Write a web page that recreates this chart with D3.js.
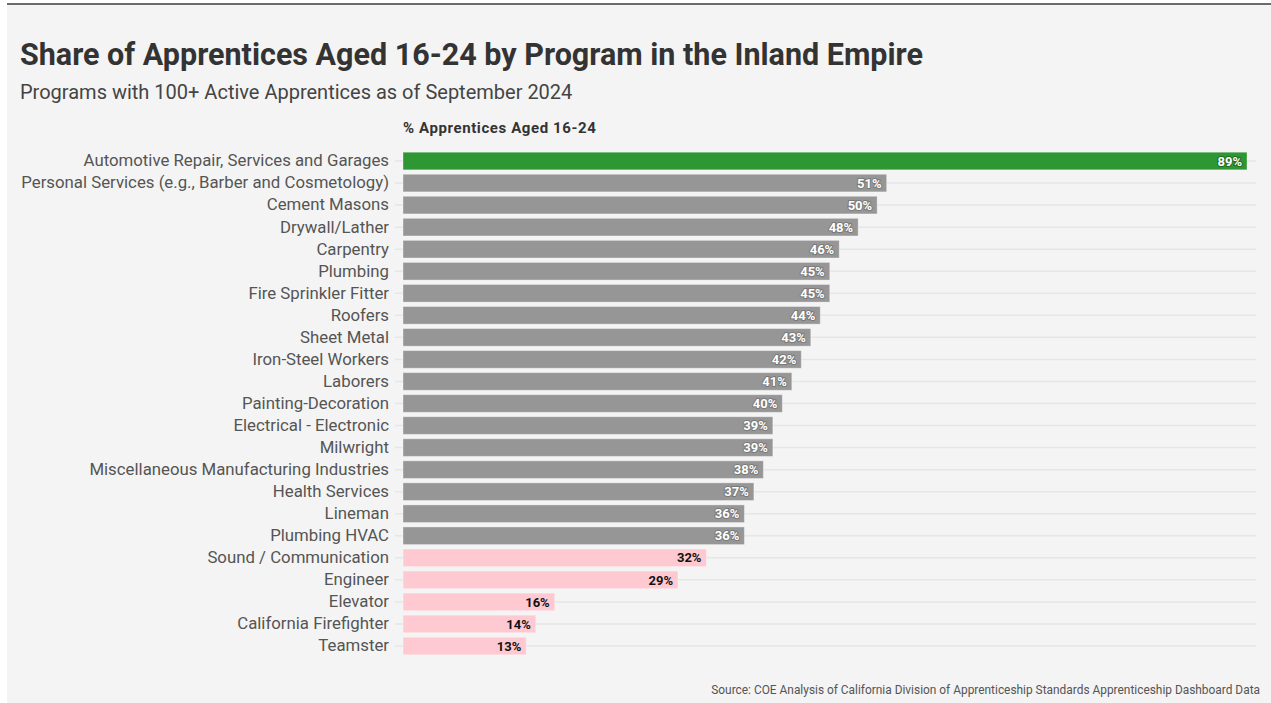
<!DOCTYPE html>
<html><head><meta charset="utf-8">
<script src="https://cdn.jsdelivr.net/npm/d3@7"></script>
<style>
html,body{margin:0;padding:0;background:#fff;}
svg{display:block;}
text{font-family:Roboto,"Noto Sans",sans-serif;}
</style></head>
<body>
<script>
const categories = ["Automotive Repair, Services and Garages","Personal Services (e.g., Barber and Cosmetology)","Cement Masons","Drywall/Lather","Carpentry","Plumbing","Fire Sprinkler Fitter","Roofers","Sheet Metal","Iron-Steel Workers","Laborers","Painting-Decoration","Electrical - Electronic","Milwright","Miscellaneous Manufacturing Industries","Health Services","Lineman","Plumbing HVAC","Sound / Communication","Engineer","Elevator","California Firefighter","Teamster"];
const values = [89,51,50,48,46,45,45,44,43,42,41,40,39,39,38,37,36,36,32,29,16,14,13];
const groups = ["top","mid","mid","mid","mid","mid","mid","mid","mid","mid","mid","mid","mid","mid","mid","mid","mid","mid","low","low","low","low","low"];

const W=1271,H=703;
const svg=d3.select("body").append("svg").attr("width",W).attr("height",H);
svg.append("rect").attr("x",7).attr("y",3).attr("width",W-7).attr("height",H-3).attr("fill","#f4f4f4");
svg.append("rect").attr("x",7).attr("y",3).attr("width",W-7).attr("height",2).attr("fill","#6b6b6b");

svg.append("text").attr("x",20).attr("y",65).attr("font-size",30.5).attr("font-weight",700).attr("fill","#333").text("Share of Apprentices Aged 16-24 by Program in the Inland Empire");
svg.append("text").attr("x",20).attr("y",99).attr("font-size",20).attr("fill","#444").text("Programs with 100+ Active Apprentices as of September 2024");
svg.append("text").attr("x",403).attr("y",133).attr("font-size",15).attr("letter-spacing",0.6).attr("font-weight",700).attr("fill","#333").text("% Apprentices Aged 16-24");

const x=d3.scaleLinear().domain([0,89]).range([403,1247]);
const y=d3.scaleBand().domain(categories).range([150,657]).paddingInner(0.2).paddingOuter(0.1);
const fill={top:"#2e9632",mid:"#969696",low:"#ffc9d1"};
const lab={top:"#fff",mid:"#fff",low:"#111"};

const g=svg.append("g");
g.selectAll("line.grid").data(categories).join("line")
 .attr("x1",395).attr("x2",1256)
 .attr("y1",d=>y(d)+y.bandwidth()/2).attr("y2",d=>y(d)+y.bandwidth()/2)
 .attr("stroke","#e6e6e6").attr("stroke-width",1.5);

const yAxis=d3.axisLeft(y).tickSize(0).tickPadding(0);
const ax=svg.append("g").attr("transform","translate(389,0)").call(yAxis);
ax.select(".domain").remove();
ax.selectAll("text").attr("font-size",16.8).attr("fill","#555").attr("font-family","Roboto,sans-serif");

const data=categories.map((c,i)=>({c,v:values[i],g:groups[i]}));
g.selectAll("rect.bar").data(data).join("rect")
 .attr("x",x(0)).attr("y",d=>y(d.c)).attr("width",d=>x(d.v)-x(0)).attr("height",y.bandwidth())
 .attr("fill",d=>fill[d.g]).attr("stroke","rgba(255,255,255,0.35)").attr("stroke-width",1);

g.selectAll("text.val").data(data).join("text")
 .attr("x",d=>x(d.v)-5).attr("y",d=>y(d.c)+y.bandwidth()/2).attr("dy","0.36em")
 .attr("text-anchor","end").attr("font-size",13).attr("font-weight",700)
 .attr("fill",d=>lab[d.g])
 .attr("stroke",d=>d.g==="top"?"#1d6b20":(d.g==="mid"?"#7a7a7a":"none")).attr("stroke-width",2).attr("paint-order","stroke")
 .text(d=>d.v+"%");

svg.append("text").attr("x",1260).attr("y",694).attr("text-anchor","end").attr("font-size",11.9).attr("fill","#555").text("Source: COE Analysis of California Division of Apprenticeship Standards Apprenticeship Dashboard Data");
</script>
</body></html>
